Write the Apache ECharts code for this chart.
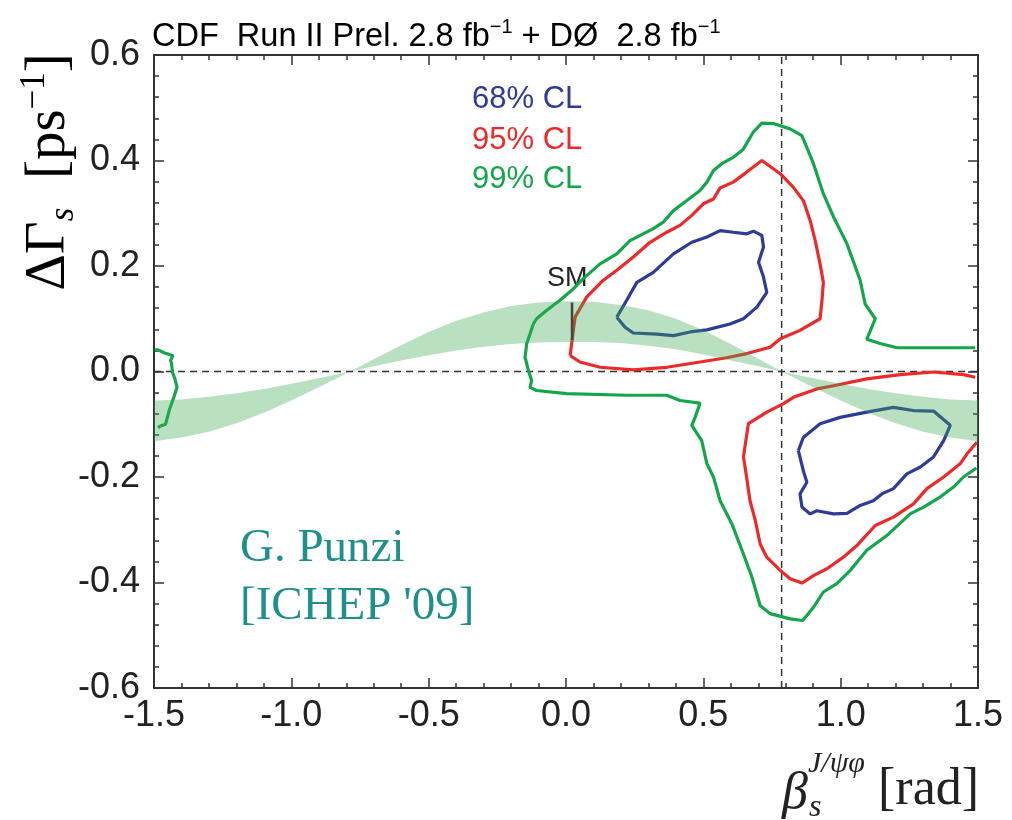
<!DOCTYPE html>
<html>
<head>
<meta charset="utf-8">
<title>DeltaGamma_s vs beta_s</title>
<script src="https://cdn.jsdelivr.net/npm/echarts@6/dist/echarts.min.js"></script>
<style>
  html, body { margin: 0; padding: 0; background: #fff; }
  #chart { width: 1012px; height: 820px; }
</style>
</head>
<body>
<div id="chart"></div>
<script>
// contours: [beta_s, DeltaGamma_s]
const cl68Upper = [
  [0.185, 0.103], [0.221, 0.135], [0.258, 0.169], [0.318, 0.188], [0.391, 0.223],
  [0.458, 0.245], [0.513, 0.255], [0.561, 0.267], [0.609, 0.264], [0.658, 0.261],
  [0.682, 0.266], [0.713, 0.258], [0.719, 0.236], [0.701, 0.207], [0.719, 0.179],
  [0.731, 0.150], [0.695, 0.122], [0.646, 0.100], [0.597, 0.090], [0.513, 0.079],
  [0.452, 0.075], [0.391, 0.068], [0.330, 0.071], [0.245, 0.073], [0.215, 0.084],
  [0.185, 0.103]
];
const cl68Lower = [
  [0.846, -0.150], [0.864, -0.125], [0.925, -0.099], [0.998, -0.087], [1.095, -0.077],
  [1.192, -0.068], [1.265, -0.074], [1.338, -0.075], [1.399, -0.102], [1.375, -0.131],
  [1.338, -0.162], [1.290, -0.181], [1.241, -0.194], [1.192, -0.222], [1.150, -0.232],
  [1.119, -0.245], [1.071, -0.254], [1.023, -0.269], [0.974, -0.270], [0.913, -0.264],
  [0.889, -0.270], [0.859, -0.257], [0.852, -0.232], [0.877, -0.210], [0.864, -0.188],
  [0.846, -0.150]
];
const cl95Upper = [
  [0.015, 0.030], [0.033, 0.103], [0.075, 0.141], [0.136, 0.173], [0.185, 0.192],
  [0.245, 0.217], [0.306, 0.245], [0.367, 0.264], [0.415, 0.277], [0.458, 0.296],
  [0.500, 0.318], [0.537, 0.327], [0.561, 0.348], [0.609, 0.359], [0.658, 0.378],
  [0.713, 0.400], [0.780, 0.375], [0.828, 0.349], [0.864, 0.324], [0.889, 0.286],
  [0.907, 0.249], [0.925, 0.204], [0.937, 0.169], [0.932, 0.135], [0.925, 0.100],
  [0.852, 0.078], [0.780, 0.062], [0.743, 0.046], [0.658, 0.034], [0.585, 0.026],
  [0.488, 0.018], [0.367, 0.008], [0.245, 0.003], [0.124, 0.008], [0.051, 0.018],
  [0.015, 0.030]
];
const cl95Lower = [
  [1.490, -0.011], [1.447, -0.006], [1.338, -0.001], [1.217, -0.006], [1.095, -0.014],
  [0.974, -0.027], [0.913, -0.033], [0.828, -0.049], [0.792, -0.061], [0.731, -0.077],
  [0.664, -0.099], [0.646, -0.162], [0.652, -0.181], [0.670, -0.245], [0.689, -0.282],
  [0.707, -0.327], [0.731, -0.352], [0.780, -0.377], [0.816, -0.393], [0.859, -0.401],
  [0.901, -0.387], [0.950, -0.374], [1.010, -0.352], [1.059, -0.330], [1.126, -0.292],
  [1.192, -0.276], [1.265, -0.251], [1.314, -0.222], [1.375, -0.200], [1.435, -0.175],
  [1.460, -0.156], [1.496, -0.134]
];
const cl99Main = [
  [1.490, 0.045], [1.362, 0.045], [1.205, 0.045], [1.144, 0.053], [1.095, 0.061],
  [1.126, 0.100], [1.089, 0.128], [1.071, 0.173], [1.023, 0.242], [0.974, 0.293],
  [0.937, 0.337], [0.901, 0.394], [0.859, 0.447], [0.816, 0.460], [0.755, 0.470],
  [0.713, 0.471], [0.682, 0.454], [0.645, 0.421], [0.609, 0.406], [0.567, 0.394],
  [0.537, 0.381], [0.513, 0.359], [0.488, 0.343], [0.440, 0.324], [0.391, 0.305],
  [0.354, 0.283], [0.318, 0.271], [0.270, 0.258], [0.233, 0.248], [0.185, 0.223],
  [0.124, 0.204], [0.063, 0.176], [0.021, 0.154], [-0.022, 0.135], [-0.070, 0.116],
  [-0.107, 0.100], [-0.119, 0.090], [-0.131, 0.071], [-0.143, 0.053], [-0.149, 0.027],
  [-0.137, 0.002], [-0.125, -0.017], [-0.131, -0.030], [-0.107, -0.036], [0.002, -0.042],
  [0.221, -0.045], [0.367, -0.045], [0.415, -0.055], [0.488, -0.060], [0.470, -0.087],
  [0.458, -0.102], [0.494, -0.131], [0.513, -0.175], [0.537, -0.200], [0.561, -0.245],
  [0.604, -0.289], [0.646, -0.346], [0.677, -0.390], [0.707, -0.444], [0.743, -0.459],
  [0.816, -0.469], [0.862, -0.472], [0.901, -0.447], [0.937, -0.418], [0.986, -0.402],
  [1.035, -0.377], [1.095, -0.339], [1.168, -0.311], [1.253, -0.270], [1.302, -0.257],
  [1.362, -0.238], [1.411, -0.219], [1.447, -0.200], [1.494, -0.183]
];
const cl99Left = [
  [-1.497, 0.041], [-1.485, 0.041], [-1.461, 0.035], [-1.431, 0.030], [-1.440, 0.021],
  [-1.436, 0.015], [-1.433, -0.001], [-1.424, -0.014], [-1.416, -0.030], [-1.428, -0.049],
  [-1.443, -0.071], [-1.458, -0.100], [-1.479, -0.104], [-1.485, -0.107]
];

// SM band: edges read at every 0.1 rad
const bandX = [
  -1.5, -1.4, -1.3, -1.2, -1.1, -1.0, -0.9, -0.8, -0.7, -0.6, -0.5, -0.4, -0.3, -0.2, -0.1, 0.0,
  0.1, 0.2, 0.3, 0.4, 0.5, 0.6, 0.7, 0.8, 0.9, 1.0, 1.1, 1.2, 1.3, 1.4, 1.5
];
const bandOuter = [
  -0.132, -0.125, -0.114, -0.098, -0.078, -0.055, -0.030, -0.004, 0.023, 0.050, 0.075, 0.096, 0.112, 0.124, 0.131, 0.133,
  0.132, 0.126, 0.116, 0.100, 0.078, 0.052, 0.024, -0.004, -0.030, -0.055, -0.078, -0.098, -0.114, -0.125, -0.132
];
const bandInner = [
  -0.055, -0.053, -0.048, -0.041, -0.033, -0.023, -0.013, -0.002, 0.010, 0.021, 0.031, 0.040, 0.047, 0.052, 0.055, 0.056,
  0.056, 0.054, 0.049, 0.042, 0.032, 0.021, 0.010, -0.002, -0.013, -0.023, -0.033, -0.041, -0.048, -0.053, -0.055
];

const smPoint = [[0.022, 0.060], [0.022, 0.131]];
const zeroLine = [[-1.5, 0], [1.5, 0]];
const quarterPiLine = [[0.785, -0.6], [0.785, 0.6]];

const blue = '#2e3b98';
const red = '#ed2a2a';
const green = '#14a64a';
const ink = '#222';

const myChart = echarts.init(document.getElementById('chart'), null, { renderer: 'canvas' });

function contour(data, color) {
  return {
    type: 'line',
    data: data,
    showSymbol: false,
    symbol: 'none',
    smooth: false,
    z: 2,
    silent: true,
    lineStyle: { color: color, width: 3.2 },
  };
}

function dashed(data) {
  return {
    type: 'line',
    data: data,
    symbol: 'none',
    z: 1,
    silent: true,
    lineStyle: { color: '#333', width: 1.5, type: [7, 5] },
  };
}

const tickStyle = { color: '#333', width: 1.5 };

function xAxisDef(pos, labels) {
  return {
    type: 'value',
    position: pos,
    min: -1.5,
    max: 1.5,
    interval: 0.5,
    axisLine: { show: true, onZero: false, lineStyle: { color: '#333', width: 2 } },
    axisTick: { show: true, inside: true, length: 10, lineStyle: tickStyle },
    minorTick: { show: true, splitNumber: 5, length: 5, lineStyle: tickStyle },
    splitLine: { show: false },
    axisLabel: {
      show: labels,
      margin: 10,
      fontSize: 36,
      color: ink,
      fontFamily: 'Liberation Sans',
      formatter: (v) => v.toFixed(1),
    },
  };
}

function yAxisDef(pos, labels) {
  return {
    type: 'value',
    position: pos,
    min: -0.6,
    max: 0.6,
    interval: 0.2,
    axisLine: { show: true, onZero: false, lineStyle: { color: '#333', width: 2 } },
    axisTick: { show: true, inside: true, length: 10, lineStyle: tickStyle },
    minorTick: { show: true, splitNumber: 5, length: 5, lineStyle: tickStyle },
    splitLine: { show: false },
    axisLabel: {
      show: labels,
      margin: 14,
      fontSize: 36,
      color: ink,
      fontFamily: 'Liberation Sans',
      formatter: (v) => v.toFixed(1),
    },
  };
}

const serif = 'Liberation Serif';

const option = {
  backgroundColor: '#fff',
  animation: false,
  grid: { left: 154, right: 34, top: 55, bottom: 132 },
  xAxis: [xAxisDef('bottom', true), xAxisDef('top', false)],
  yAxis: [yAxisDef('left', true), yAxisDef('right', false)],
  graphic: [
    {
      type: 'text',
      x: 152,
      y: 37,
      style: {
        text: '{t|CDF  Run II Prel. 2.8 fb}{u|−1}{t| + DØ  2.8 fb}{u|−1}',
        verticalAlign: 'middle',
        rich: {
          t: { fontSize: 32.5, fontFamily: 'Liberation Sans', color: ink, lineHeight: 40 },
          u: { fontSize: 20, fontFamily: 'Liberation Sans', color: ink, lineHeight: 20, verticalAlign: 'top' },
        },
      },
    },
    // y axis name
    {
      type: 'text',
      x: 49,
      y: 172,
      rotation: Math.PI / 2,
      style: {
        text: '{a|ΔΓ}{s|s}{a|  [ps}{p|−1}{a|]}',
        align: 'center',
        verticalAlign: 'middle',
        rich: {
          a: { fontSize: 57, fontFamily: serif, color: ink, lineHeight: 64 },
          s: { fontSize: 35, fontFamily: serif, fontStyle: 'italic', color: ink, lineHeight: 40, verticalAlign: 'bottom' },
          p: { fontSize: 35, fontFamily: serif, color: ink, lineHeight: 34, verticalAlign: 'top' },
        },
      },
    },
    // x axis name
    {
      type: 'text', x: 782, y: 794,
      style: { text: 'β', font: 'italic 52px "Liberation Serif"', fill: ink, verticalAlign: 'middle' },
    },
    {
      type: 'text', x: 808, y: 764,
      style: { text: 'J/ψφ', font: 'italic 30px "Liberation Serif"', fill: ink, verticalAlign: 'middle' },
    },
    {
      type: 'text', x: 809, y: 808,
      style: { text: 's', font: 'italic 32px "Liberation Serif"', fill: ink, verticalAlign: 'middle' },
    },
    {
      type: 'text', x: 878, y: 790,
      style: { text: '[rad]', font: '52px "Liberation Serif"', fill: ink, verticalAlign: 'middle' },
    },
    // legend
    {
      type: 'text', x: 472, y: 99,
      style: { text: '68% CL', font: '31px "Liberation Sans"', fill: blue, verticalAlign: 'middle' },
    },
    {
      type: 'text', x: 472, y: 140,
      style: { text: '95% CL', font: '31px "Liberation Sans"', fill: red, verticalAlign: 'middle' },
    },
    {
      type: 'text', x: 472, y: 179,
      style: { text: '99% CL', font: '31px "Liberation Sans"', fill: green, verticalAlign: 'middle' },
    },
    {
      type: 'text', x: 547, y: 279,
      style: { text: 'SM', font: '27px "Liberation Sans"', fill: ink, verticalAlign: 'middle' },
    },
    {
      type: 'text', x: 240, y: 549,
      style: { text: 'G. Punzi', font: '47px "Liberation Serif"', fill: '#1f8f8c', verticalAlign: 'middle' },
    },
    {
      type: 'text', x: 240, y: 607,
      style: { text: "[ICHEP '09]", font: '47px "Liberation Serif"', fill: '#1f8f8c', verticalAlign: 'middle' },
    },
  ],
  series: [
    dashed(zeroLine),
    dashed(quarterPiLine),
    contour(cl99Left, green),
    contour(cl99Main, green),
    contour(cl95Upper, red),
    contour(cl95Lower, red),
    contour(cl68Upper, blue),
    contour(cl68Lower, blue),
    {
      type: 'custom',
      z: 3,
      silent: true,
      data: [[0, 0]],
      renderItem: function (params, api) {
        const pts = [];
        for (let i = 0; i < bandX.length; i++) pts.push(api.coord([bandX[i], bandOuter[i]]));
        for (let i = bandX.length - 1; i >= 0; i--) pts.push(api.coord([bandX[i], bandInner[i]]));
        return {
          type: 'polygon',
          shape: { points: pts, smooth: 0 },
          style: { fill: 'rgba(60,170,80,0.36)' },
        };
      },
    },
    {
      type: 'line',
      data: smPoint,
      symbol: 'none',
      z: 4,
      silent: true,
      lineStyle: { color: '#444', width: 2.5 },
    },
  ],
};

myChart.setOption(option);
</script>
</body>
</html>
